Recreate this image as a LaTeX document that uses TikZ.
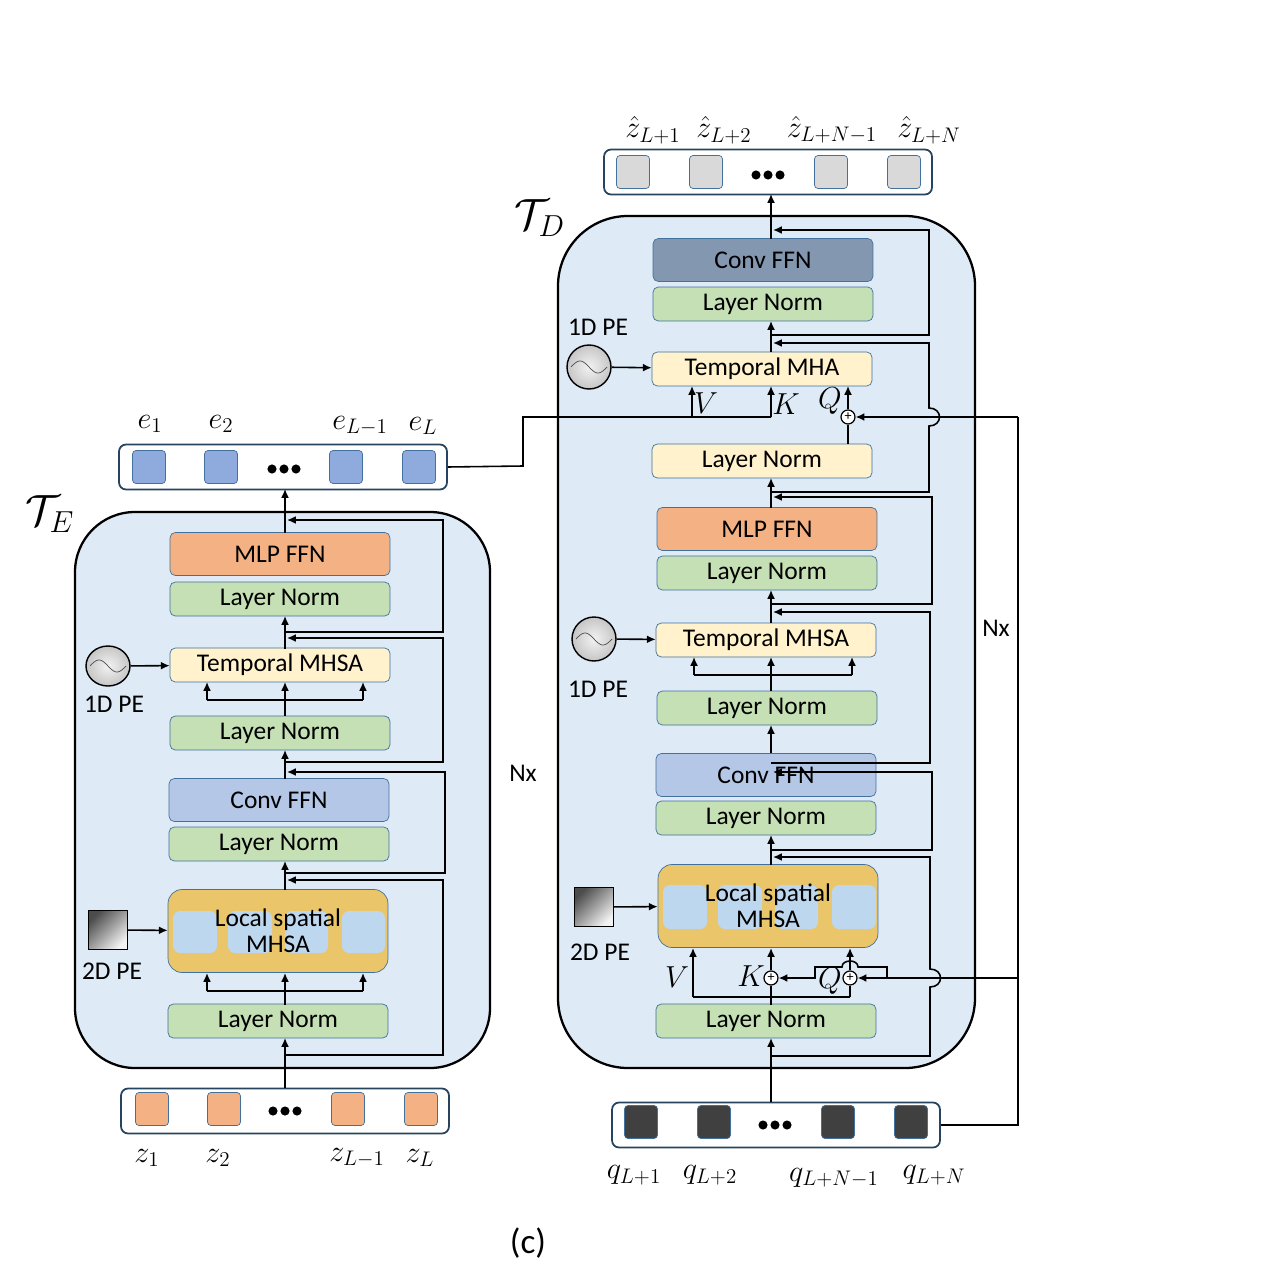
\documentclass[tikz,border=0pt]{standalone}
\usepackage{fontspec}
\setmainfont{Carlito}
\usetikzlibrary{arrows.meta,shadings,shapes.geometric}
\definecolor{bgblue}{HTML}{DEEBF7}
\definecolor{edgeblue}{HTML}{41719C}
\definecolor{cOrange}{HTML}{F4B183}
\definecolor{cGreen}{HTML}{C5E0B4}
\definecolor{cYellow}{HTML}{FFF2CC}
\definecolor{cBlue}{HTML}{B4C7E7}
\definecolor{cSteel}{HTML}{8497B0}
\definecolor{cGold}{HTML}{EAC569}
\definecolor{cPale}{HTML}{BDD7EE}
\definecolor{cTok}{HTML}{8FAADC}
\definecolor{cGrey}{HTML}{D9D9D9}
\definecolor{cDark}{HTML}{404040}
\tikzset{
  blk/.style={draw=edgeblue, fill=#1, rounded corners=3pt, minimum width=4.4cm,
    minimum height=0.68cm, inner sep=0pt, font=\fontsize{14.5}{16}\selectfont},
  tall/.style={minimum height=0.86cm},
  wire/.style={line width=0.9pt},
  arr/.style={wire, -{Latex[length=5pt,width=4.5pt]}},
  tok/.style={draw=edgeblue, fill=#1, rounded corners=2pt, minimum size=0.66cm, inner sep=0pt},
  strip/.style={draw=edgeblue!60!black, line width=1pt, fill=white, rounded corners=4pt,
    minimum width=6.56cm, minimum height=0.9cm, inner sep=0pt},
  lbl/.style={font=\fontsize{17}{19}\selectfont},
  txt/.style={font=\fontsize{14.5}{16}\selectfont},
  add/.style={draw, circle, fill=white, minimum size=0.28cm, inner sep=0pt, line width=0.7pt,
    font=\fontsize{8}{8}\selectfont},
  pebox/.style={draw, shading=axis, left color=gray!60!black, right color=gray!10, shading angle=45,
    minimum size=0.78cm, inner sep=0pt},
  pewave/.style={draw, minimum size=0.88cm, line width=0.8pt, inner sep=0pt,
    shading=radial, inner color=gray!10, outer color=gray!45},
}
\begin{document}
\begin{tikzpicture}[x=0.02cm, y=-0.02cm]
\useasboundingbox (0,0) rectangle (1270,1280);

% ---------------- encoder ----------------
\draw[line width=1.3pt, fill=bgblue, rounded corners=1.2cm] (75,512) rectangle (490,1068);
\node[blk=cOrange, tall] (eMLP) at (280,554) {MLP FFN};
\node[blk=cGreen] (eLNa) at (280,599) {Layer Norm};
\node[blk=cYellow] (eTM) at (280,665) {Temporal MHSA};
\node[blk=cGreen] (eLNb) at (280,733) {Layer Norm};
\node[blk=cBlue, tall] (eConv) at (279,800) {Conv FFN};
\node[blk=cGreen] (eLNc) at (279,844) {Layer Norm};
\node[blk=cGold, minimum height=1.66cm, rounded corners=8pt] (eLS) at (278,931) {};
\foreach \a/\b in {173/217,228/272,285/328,342/385}
  \fill[cPale, rounded corners=4pt] (\a,911) rectangle (\b,953);
\node[txt, align=center] at (eLS) {Local spatial\\[-1pt]MHSA};
\node[blk=cGreen] (eLNd) at (278,1021) {Layer Norm};

\node[strip] (eIn) at (285,1111) {};
\node[strip] (eOut) at (283,467) {};
\foreach \x [count=\i] in {152,224,348,421}
  \node[tok=cOrange] (z\i) at (\x,1109) {};
\foreach \x [count=\i] in {149,221,346,419}
  \node[tok=cTok] (e\i) at (\x,467) {};
\foreach \d in {-12,0,12} {
  \fill (285+\d,1111) circle (2.6pt);
  \fill (284+\d,469) circle (2.6pt);
}
\node[lbl] at (147,1158) {$z_1$};
\node[lbl] at (218,1158) {$z_2$};
\node[lbl] at (357,1158) {$z_{L-1}$};
\node[lbl] at (420,1158) {$z_L$};
\node[lbl] at (150,424) {$e_1$};
\node[lbl] at (221,424) {$e_2$};
\node[lbl] at (360,426) {$e_{L-1}$};
\node[lbl] at (423,426) {$e_L$};
\node[font=\fontsize{24}{26}\selectfont] at (50,514) {$\mathcal{T}_E$};
\node[txt] at (523,773) {Nx};

% main path
\draw[arr] (285,1088) -- (285,1038);
\draw[wire] (285,1005) -- (285,991);
\draw[wire] (207,991) -- (363,991);
\foreach \x in {207,285,363} \draw[arr] (\x,991) -- (\x,973);
\draw[arr] (285,890) -- (285,861);
\draw[arr] (285,779) -- (285,750);
\draw[wire] (285,716) -- (285,700);
\draw[wire] (207,700) -- (363,700);
\foreach \x in {207,285,363} \draw[arr] (\x,700) -- (\x,682);
\draw[arr] (285,649) -- (285,616);
\draw[arr] (285,533) -- (285,489);
% residuals
\draw[arr] (285,1055) -- (443,1055) -- (443,880) -- (287,880);
\draw[arr] (285,873) -- (445,873) -- (445,772) -- (287,772);
\draw[arr] (285,762) -- (443,762) -- (443,638) -- (287,638);
\draw[arr] (285,632) -- (443,632) -- (443,520) -- (287,520);
% PE
\node[pewave, ellipse, minimum height=0.8cm] (ePE1) at (108,666) {};
\draw[gray!60!black, line width=0.4pt] plot[domain=-18:18, samples=30] ({108+\x}, {666+6*sin(\x*10)});
\node[txt] at (114,704) {1D PE};
\draw[arr] (ePE1) -- (eTM);
\node[pebox] (ePE2) at (108,930) {};
\node[txt] at (112,971) {2D PE};
\draw[arr] (ePE2) -- (eLS);

% ---------------- decoder ----------------
\draw[line width=1.3pt, fill=bgblue, rounded corners=1.4cm] (558,216) rectangle (975,1068);
\node[blk=cSteel, tall] (dConv) at (763,260) {Conv FFN};
\node[blk=cGreen] (dLNa) at (763,304) {Layer Norm};
\node[blk=cYellow] (dTM) at (762,369) {Temporal MHA};
\node[blk=cYellow] (dLNb) at (762,461) {Layer Norm};
\node[blk=cOrange, tall] (dMLP) at (767,529) {MLP FFN};
\node[blk=cGreen] (dLNc) at (767,573) {Layer Norm};
\node[blk=cYellow] (dTS) at (766,640) {Temporal MHSA};
\node[blk=cGreen] (dLNd) at (767,708) {Layer Norm};
\node[blk=cBlue, tall] (dConv2) at (766,775) {Conv FFN};
\node[blk=cGreen] (dLNe) at (766,818) {Layer Norm};
\node[blk=cGold, minimum height=1.66cm, rounded corners=8pt] (dLS) at (768,906) {};
\foreach \a/\b in {663/707,718/762,775/818,832/876}
  \fill[cPale, rounded corners=4pt] (\a,885) rectangle (\b,929);
\node[txt, align=center] at (dLS) {Local spatial\\[-1pt]MHSA};
\node[blk=cGreen] (dLNf) at (766,1021) {Layer Norm};

\node[strip] (dOut) at (768,172) {};
\node[strip] (dIn) at (776,1125) {};
\foreach \x [count=\i] in {633,706,831,904}
  \node[tok=cGrey] (zh\i) at (\x,172) {};
\foreach \x [count=\i] in {641,714,838,911}
  \node[tok=cDark] (q\i) at (\x,1122) {};
\foreach \d in {-12,0,12} {
  \fill (768+\d,175) circle (2.6pt);
  \fill (775+\d,1125) circle (2.6pt);
}
\node[lbl] at (653,130) {$\hat z_{L+1}$};
\node[lbl] at (724,130) {$\hat z_{L+2}$};
\node[lbl] at (832,130) {$\hat z_{L+N-1}$};
\node[lbl] at (929,130) {$\hat z_{L+N}$};
\node[lbl] at (634,1175) {$q_{L+1}$};
\node[lbl] at (710,1175) {$q_{L+2}$};
\node[lbl] at (834,1178) {$q_{L+N-1}$};
\node[lbl] at (934,1175) {$q_{L+N}$};
\node[font=\fontsize{24}{26}\selectfont] at (540,218) {$\mathcal{T}_D$};
\node[txt] at (996,628) {Nx};
\node[font=\fontsize{20}{22}\selectfont] at (528,1243) {(c)};

% main path
\draw[arr] (771,1102) -- (771,1038);
\node[add] (kAdd) at (771,978) {+};
\node[add] (qAdd) at (850,978) {+};
\draw[wire] (771,1005) -- (kAdd);
\draw[arr] (kAdd) -- (771,948);
\draw[wire] (693,997) -- (850,997);
\draw[arr] (693,997) -- (693,948);
\draw[wire] (850,997) -- (qAdd);
\draw[arr] (qAdd) -- (850,948);
\draw[arr] (771,865) -- (771,835);
\draw[arr] (771,753) -- (771,725);
\draw[wire] (771,691) -- (771,675);
\draw[wire] (694,675) -- (852,675);
\foreach \x in {694,771,852} \draw[arr] (\x,675) -- (\x,657);
\draw[arr] (771,623) -- (771,590);
\draw[arr] (771,508) -- (771,478);
\draw[arr] (771,352) -- (771,321);
\draw[arr] (771,239) -- (771,194);
% residuals
\draw[arr] (771,1056) -- (930,1056) -- (930,987) .. controls (944,987) and (944,969) .. (930,969)
  -- (930,857) -- (773,857);
\draw[arr] (771,850) -- (932,850) -- (932,772) -- (773,772);
\draw[arr] (771,763) -- (930,763) -- (930,612) -- (773,612);
\draw[arr] (771,604) -- (932,604) -- (932,497) -- (773,497);
\draw[arr] (771,492) -- (929,492) -- (929,426) .. controls (943,426) and (943,408) .. (929,408)
  -- (929,343) -- (773,343);
\draw[arr] (771,335) -- (929,335) -- (929,230) -- (773,230);
% cross attention inputs
\node[add] (qTop) at (848,417) {+};
\draw[wire] (dLNb.north -| qTop) -- (qTop);
\draw[arr] (qTop) -- (848,386);
\draw[wire] (eOut.east) -- (523,466) -- (523,417) -- (771,417);
\draw[arr] (692,417) -- (692,386);
\draw[arr] (771,417) -- (771,386);
\draw[wire] (dIn.east) -- (1018,1125) -- (1018,417);
\draw[arr] (1018,417) -- (qTop);
\draw[arr] (1018,978) -- (qAdd);
\draw[arr] (887,978) -- (887,967) -- (858,967) .. controls (858,959) and (842,959) .. (842,967)
  -- (815,967) -- (815,978) -- (kAdd);
\node[lbl] at (706,403) {$V$};
\node[lbl] at (786,404) {$K$};
\node[lbl] at (830,401) {$Q$};
\node[lbl] at (677,977) {$V$};
\node[lbl] at (751,976) {$K$};
\node[lbl] at (830,981) {$Q$};
% PE
\node[pewave, circle] (dPE1) at (589,367) {};
\draw[gray!60!black, line width=0.4pt] plot[domain=-18:18, samples=30] ({589+\x}, {367+6*sin(\x*10)});
\node[txt] at (598,327) {1D PE};
\draw[arr] (dPE1) -- (dTM);
\node[pewave, circle] (dPE2) at (594,639) {};
\draw[gray!60!black, line width=0.4pt] plot[domain=-18:18, samples=30] ({594+\x}, {639+6*sin(\x*10)});
\node[txt] at (598,689) {1D PE};
\draw[arr] (dPE2) -- (dTS);
\node[pebox] (dPE3) at (594,907) {};
\node[txt] at (600,952) {2D PE};
\draw[arr] (dPE3) -- (dLS);
\end{tikzpicture}
\end{document}
